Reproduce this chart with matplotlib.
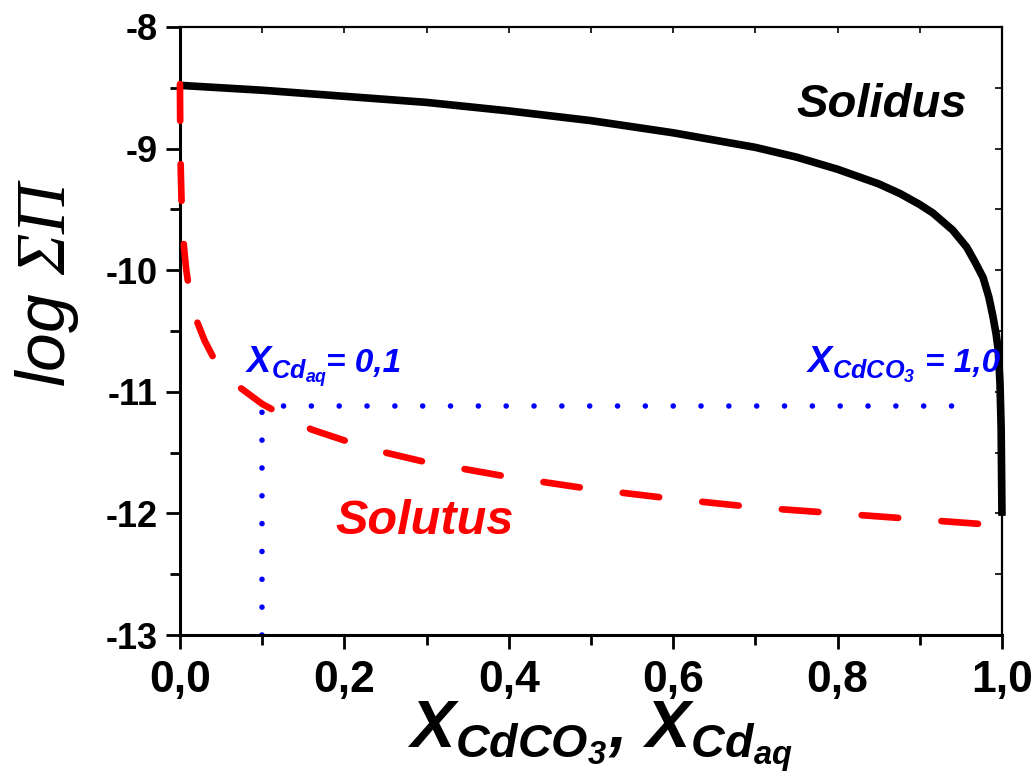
import matplotlib
matplotlib.use('Agg')
import matplotlib.pyplot as plt
from matplotlib import font_manager as fm
from matplotlib.ticker import MultipleLocator, FixedLocator, FixedFormatter


def have_font(name):
    try:
        fm.findfont(fm.FontProperties(family=name), fallback_to_default=False)
        return True
    except ValueError:
        return False


narrow = 'Liberation Sans Narrow' if have_font('Liberation Sans Narrow') else 'Liberation Sans'

plt.rcParams['font.family'] = ['Liberation Sans', 'DejaVu Sans']
plt.rcParams['mathtext.fontset'] = 'custom'
plt.rcParams['mathtext.rm'] = 'Liberation Sans'
plt.rcParams['mathtext.it'] = 'Liberation Sans:italic'
plt.rcParams['mathtext.bf'] = 'Liberation Sans:bold'
plt.rcParams['mathtext.bfit'] = 'Liberation Sans:italic:bold'
plt.rcParams['mathtext.sf'] = 'Liberation Serif:italic'

# Данные
solidus_x = [0.0, 0.1, 0.2, 0.3, 0.4, 0.5, 0.6, 0.7, 0.75, 0.8, 0.85, 0.876,
             0.9, 0.916, 0.94, 0.957, 0.967, 0.977, 0.984, 0.989, 0.993,
             0.9955, 0.9976, 0.999, 1.0]
solidus_y = [-8.48, -8.52, -8.57, -8.62, -8.69, -8.77, -8.87, -8.99, -9.07,
             -9.17, -9.29, -9.37, -9.46, -9.53, -9.67, -9.81, -9.93, -10.06,
             -10.22, -10.38, -10.53, -10.66, -10.93, -11.3, -12.02]

solutus_x = [0.0, 0.0002, 0.0005, 0.001, 0.002, 0.003, 0.005, 0.0075, 0.01,
             0.015, 0.02, 0.03, 0.04, 0.05, 0.07, 0.1, 0.13, 0.16, 0.2, 0.25,
             0.3, 0.4, 0.5, 0.6, 0.7, 0.8, 0.9, 1.0]
solutus_y = [-8.47, -8.74, -8.97, -9.19, -9.45, -9.62, -9.82, -9.99, -10.11,
             -10.28, -10.41, -10.58, -10.71, -10.80, -10.95, -11.10, -11.21,
             -11.31, -11.40, -11.50, -11.58, -11.70, -11.80, -11.88, -11.95,
             -12.00, -12.05, -12.10]

# пунктир X_Cd(aq) = 0,1
guide_x = [0.1, 0.1, 0.97]
guide_y = [-13.0, -11.12, -11.12]

x_ticks = [0.0, 0.2, 0.4, 0.6, 0.8, 1.0]
x_ticklabels = ['0,0', '0,2', '0,4', '0,6', '0,8', '1,0']
y_ticks = [-13, -12, -11, -10, -9, -8]
y_ticklabels = ['-13', '-12', '-11', '-10', '-9', '-8']

fig = plt.figure(figsize=(10.32, 7.78), dpi=100)
ax = fig.add_axes([0.1744, 0.1838, 0.7965, 0.7815])

ax.plot(solidus_x, solidus_y, color='black', lw=5.5, solid_capstyle='butt',
        solid_joinstyle='round', clip_on=False, zorder=3)
ax.plot(solutus_x, solutus_y, color='#ff0000', lw=4.8, dashes=(5.5, 6.5),
        dash_capstyle='round', clip_on=False, zorder=3)
ax.plot(guide_x, guide_y, color='#0000ff', lw=4, dashes=(0.01, 5.0),
        dash_capstyle='round', zorder=2)

ax.set_xlim(0, 1)
ax.set_ylim(-13, -8)

ax.xaxis.set_major_locator(FixedLocator(x_ticks))
ax.xaxis.set_major_formatter(FixedFormatter(x_ticklabels))
ax.xaxis.set_minor_locator(MultipleLocator(0.1))
ax.yaxis.set_major_locator(FixedLocator(y_ticks))
ax.yaxis.set_major_formatter(FixedFormatter(y_ticklabels))
ax.yaxis.set_minor_locator(MultipleLocator(0.5))

ax.tick_params(which='major', direction='out', length=10, width=2)
ax.tick_params(which='minor', direction='out', length=7, width=2)
ax.tick_params(axis='y', labelsize=26, pad=6)
ax.tick_params(axis='x', labelsize=32, pad=8)
for lab in ax.get_yticklabels():
    lab.set_fontweight('bold')
for lab in ax.get_xticklabels():
    lab.set_fontweight('bold')
    lab.set_family(narrow)

for side in ['left', 'bottom']:
    ax.spines[side].set_linewidth(2.2)
for side in ['top', 'right']:
    ax.spines[side].set_linewidth(1.6)

top = ax.secondary_xaxis('top')
top.xaxis.set_major_locator(MultipleLocator(0.1))
top.tick_params(direction='in', length=4, width=1.2, labeltop=False)
right = ax.secondary_yaxis('right')
right.yaxis.set_major_locator(MultipleLocator(0.5))
right.tick_params(direction='in', length=5, width=1.2, labelright=False)
top.spines['top'].set_visible(False)
right.spines['right'].set_visible(False)

ax.set_ylabel(r'$\mathit{log}\ \mathsf{\Sigma\Pi}$', fontsize=50)
ax.yaxis.set_label_coords(-0.12, 0.58)

ax.set_xlabel(r'$\mathbfit{X}_{\mathbfit{CdCO}_{\mathbfit{3}}}\mathbfit{,}\ \mathbfit{X}_{\mathbfit{Cd}_{\mathbfit{aq}}}$',
              fontsize=48, family=narrow)
ax.xaxis.set_label_coords(0.511, -0.105)

ax.text(0.854, -8.64, 'Solidus', fontsize=34, fontweight='bold',
        style='italic', color='black', ha='center', va='center')
ax.text(0.298, -12.07, 'Solutus', fontsize=35, fontweight='bold',
        style='italic', color='#ff0000', ha='center', va='center')

# подписи X = 0,1 и X = 1,0
ax.text(0.079, -10.84, r'$\mathbfit{X}_{\mathbfit{Cd}_{\mathbfit{aq}}}$',
        fontsize=26, color='#0000ff', ha='left', va='baseline')
ax.text(0.178, -10.84, '= 0,1', fontsize=24, fontweight='bold',
        style='italic', color='#0000ff', ha='left', va='baseline')
ax.text(0.762, -10.84, r'$\mathbfit{X}_{\mathbfit{CdCO}_{\mathbfit{3}}}$',
        fontsize=26, color='#0000ff', ha='left', va='baseline')
ax.text(0.906, -10.84, '= 1,0', fontsize=24, fontweight='bold',
        style='italic', color='#0000ff', ha='left', va='baseline')

fig.savefig('out.png', dpi=100)
